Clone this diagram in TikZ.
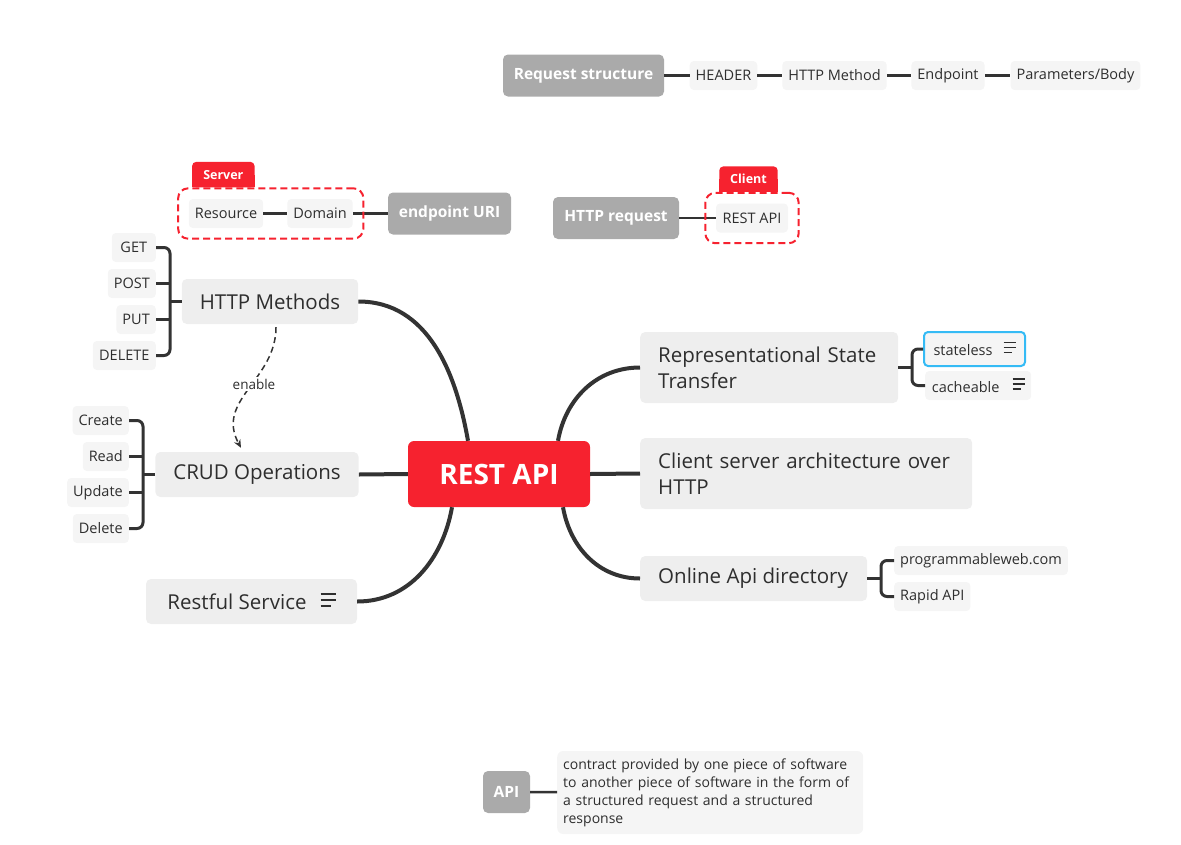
\documentclass[tikz,border=0pt]{standalone}
\usepackage{fontspec}
\setmainfont{Open Sans}
\usetikzlibrary{arrows.meta,fit,backgrounds}
\definecolor{rootred}{HTML}{F6222F}
\definecolor{topicgray}{HTML}{EEEEEE}
\definecolor{subgray}{HTML}{F5F5F5}
\definecolor{floatgray}{HTML}{AAAAAA}
\definecolor{linedark}{HTML}{333333}
\definecolor{textdark}{HTML}{2E2E2E}
\definecolor{selblue}{HTML}{35BBF5}
\hyphenpenalty=10000
% little note marker (three lines)
\newcommand{\notelines}[2]{\raisebox{2.5pt}{\vbox{\hrule width #1 height 1.5pt\vskip #2\hrule width #1 height 1.5pt\vskip #2\hrule width \dimexpr #1*7/10\relax height 1.5pt}}}

\begin{document}
\begin{tikzpicture}[x=1pt,y=-1pt,>={Stealth[length=8pt,width=7pt]},
  every node/.style={text=textdark},
  root/.style={fill=rootred,text=white,rounded corners=6pt,minimum width=182pt,minimum height=66pt,font=\fontsize{28}{32}\selectfont\bfseries},
  topic/.style={fill=topicgray,rounded corners=5pt,minimum height=45pt,inner xsep=18pt,font=\fontsize{20.5}{26}\selectfont},
  sub/.style={fill=subgray,rounded corners=4pt,minimum height=29pt,inner xsep=6pt,font=\fontsize{14.5}{18}\selectfont},
  float/.style={fill=floatgray,text=white,rounded corners=5pt,minimum height=42pt,font=\fontsize{15.5}{19}\selectfont\bfseries},
  branch/.style={draw=linedark,line width=4pt},
  bracket/.style={draw=linedark,line width=3pt,rounded corners=6pt},
  link/.style={draw=linedark,line width=2.5pt},
  boundary/.style={draw=rootred,dash pattern=on 7pt off 4pt,line width=2pt,rounded corners=10pt,inner sep=10.5pt},
  tag/.style={text=white,minimum height=25pt,inner sep=0pt,font=\fontsize{12.5}{15}\selectfont\bfseries}]
\useasboundingbox (0,0) rectangle (1181,844);

% central topic and main branches
\node[root] (root) at (499,474) {REST API};
\node[topic,minimum width=174pt] (methods) at (270,301.5) {HTTP Methods};
\node[topic,minimum width=200pt] (crud) at (257,474.5) {CRUD Operations};
\node[topic,minimum width=211pt] (restful) at (251.5,601.5) {Restful Service\hspace{14pt}\notelines{15pt}{4.5pt}};
\node[topic,anchor=west,align=left,text width=222pt,minimum height=71pt] (repr) at (640,367.5) {Representational State\\Transfer};
\node[topic,anchor=west,align=left,text width=296pt,minimum height=71pt] (client) at (640,473.5) {Client server architecture over\\HTTP};
\node[topic,anchor=west] (online) at (640,578.5) {\makebox[191pt][l]{Online Api directory}};

\draw[branch] (methods.east) to[out=0,in=100] ([xshift=-31pt]root.north);
\draw[branch] (crud.east) -- (root.west);
\draw[branch] (restful.east) to[out=0,in=-100] ([xshift=-47pt]root.south);
\draw[branch] ([xshift=59pt]root.north) to[out=80,in=180] (repr.west);
\draw[branch] (root.east) -- (client.west);
\draw[branch] ([xshift=64pt]root.south) to[out=-80,in=180] (online.west);

% HTTP methods
\node[sub,anchor=east,minimum width=44pt] (get) at (156,247.5) {GET};
\node[sub,anchor=east,minimum width=48pt] (post) at (156,283.5) {POST};
\node[sub,anchor=east,minimum width=39pt] (put) at (156,319.5) {PUT};
\node[sub,anchor=east,minimum width=63pt] (delete) at (156,355.5) {DELETE};
\coordinate (mbr) at (170,301.5);
\draw[bracket] (get.east) -| (mbr) |- (delete.east);
\draw[bracket] (post.east) -- (post.east -| mbr);
\draw[bracket] (put.east) -- (put.east -| mbr);
\draw[bracket] (methods.west) -- (mbr);

% CRUD
\node[sub,anchor=east,minimum width=56pt] (create) at (129,420.5) {Create};
\node[sub,anchor=east,minimum width=46pt] (read) at (129,456.5) {Read};
\node[sub,anchor=east,minimum width=61pt] (update) at (129,492.5) {Update};
\node[sub,anchor=east,minimum width=56pt] (del) at (129,528.5) {Delete};
\coordinate (cbr) at (143,474.5);
\draw[bracket] (create.east) -| (cbr) |- (del.east);
\draw[bracket] (read.east) -- (read.east -| cbr);
\draw[bracket] (update.east) -- (update.east -| cbr);
\draw[bracket] (crud.west) -- (cbr);

% methods enable crud
\draw[linedark,line width=1.5pt,dash pattern=on 6pt off 4pt,->]
  ([xshift=6pt,yshift=-3pt]methods.south) .. controls (276,380) and (215,400) .. ([xshift=-16pt,yshift=4pt]crud.north);
\node[fill=white,inner sep=2pt,font=\fontsize{13.5}{16}\selectfont] (enable) at (254,384) {enable};

% REST properties
\node[sub,anchor=west,minimum width=101pt,minimum height=34pt,draw=selblue,line width=2pt] (stateless) at (923,349) {stateless\hspace{11pt}\notelines{12pt}{3.5pt}};
\node[sub,anchor=west,minimum width=106pt] (cacheable) at (925,385.5) {cacheable\hspace{13pt}\notelines{12pt}{3.5pt}};
\coordinate (rbr) at (912,367.5);
\draw[bracket] (stateless.west) -| (rbr) |- (cacheable.west);
\draw[bracket] (repr.east) -- (rbr);

% directories
\node[sub,anchor=west,minimum width=170pt] (pweb) at (894,560.5) {programmableweb.com};
\node[sub,anchor=west,minimum width=75pt] (rapid) at (894,596.5) {Rapid API};
\coordinate (obr) at (881,578.5);
\draw[bracket] (pweb.west) -| (obr) |- (rapid.west);
\draw[bracket] (online.east) -- (obr);

% request structure
\node[float,minimum width=161pt] (reqstruct) at (583.5,75.5) {Request structure};
\node[sub,minimum width=67pt] (header) at (723.5,75.5) {HEADER};
\node[sub,minimum width=103pt] (httpmethod) at (834.5,75.5) {HTTP Method};
\node[sub,minimum width=72pt] (endpoint) at (948,75.5) {Endpoint};
\node[sub,minimum width=127pt] (params) at (1075.5,75.5) {Parameters/Body};
\draw[link] (reqstruct) -- (header) -- (httpmethod) -- (endpoint) -- (params);

% endpoint URI on the server
\node[float,minimum width=123pt] (uri) at (449.5,213.5) {endpoint URI};
\node[sub,minimum width=62pt] (domain) at (320,213.5) {Domain};
\node[sub,minimum width=74pt] (resource) at (226,213.5) {Resource};
\draw[link] (resource) -- (domain) -- (uri);
\node[boundary,fit=(resource)(domain)] (srvbox) {};
\node[tag,anchor=south west,minimum width=62pt] (srvtag) at ([xshift=15pt]srvbox.north west) {Server};

% HTTP request from the client
\node[float,minimum width=126pt] (httpreq) at (616,218) {HTTP request};
\node[sub,minimum width=72pt] (restapi) at (752,218) {REST API};
\draw[link] (httpreq) -- (restapi);
\node[boundary,fit=(restapi)] (clibox) {};
\node[tag,anchor=south west,minimum width=58pt] (clitag) at ([xshift=15pt]clibox.north west) {Client};

\begin{pgfonlayer}{background}
\fill[rootred,rounded corners=4pt] (srvtag.south west) rectangle (srvtag.north east);
\fill[rootred] (srvtag.west) rectangle (srvtag.south east);
\fill[rootred,rounded corners=4pt] (clitag.south west) rectangle (clitag.north east);
\fill[rootred] (clitag.west) rectangle (clitag.south east);
\end{pgfonlayer}

% API definition
\node[sub,anchor=west,align=left,text width=294pt,minimum height=83pt,rounded corners=6pt,font=\fontsize{14}{18}\selectfont] (apinote) at (557,792.5) {contract provided by one piece of software\\to another piece of software in the form of\\a structured request and a structured\\response};
\node[float,minimum width=47pt] (api) at (506.5,792) {API};
\draw[link] (api) -- (apinote);
\end{tikzpicture}
\end{document}
